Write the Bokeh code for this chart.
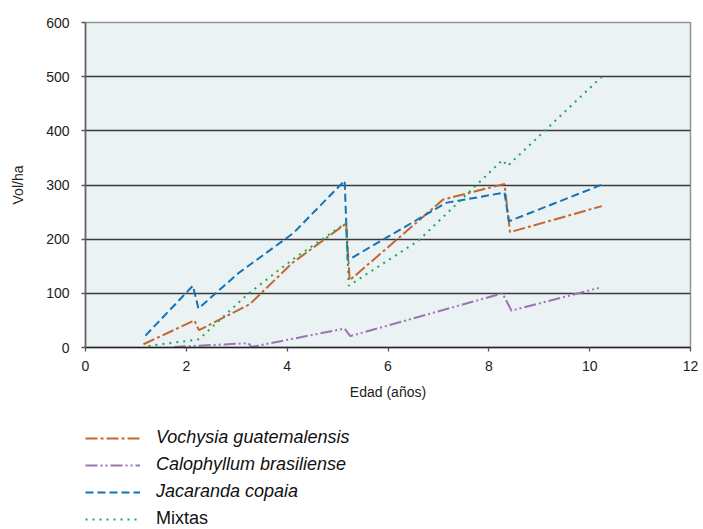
from bokeh.plotting import figure
from bokeh.models import Legend, LegendItem, FixedTicker, Range1d
from bokeh.layouts import column
from bokeh.embed import file_html
from bokeh.resources import INLINE

# Data
vochysia_x = [1.15, 2.16, 2.25, 3.26, 4.1, 5.17, 5.24, 7.09, 8.31, 8.42, 10.24]
vochysia_y = [6, 50, 32, 80, 156, 229, 124, 273, 302, 213, 261]

calophyllum_x = [1.75, 3.23, 3.29, 5.14, 5.25, 8.27, 8.45, 10.18]
calophyllum_y = [1, 8, 1, 35, 21, 100, 68, 110]

jacaranda_x = [1.19, 2.13, 2.24, 3.03, 4.12, 5.14, 5.2, 7.15, 8.31, 8.4, 10.28]
jacaranda_y = [22, 114, 72, 137, 211, 308, 161, 267, 286, 233, 302]

mixtas_x = [1.25, 2.25, 3.2, 4.1, 5.17, 5.22, 6.6, 8.27, 8.37, 10.24]
mixtas_y = [3, 15, 97, 162, 230, 114, 197, 346, 335, 500]

series_names = ["Vochysia guatemalensis", "Calophyllum brasiliense", "Jacaranda copaia", "Mixtas"]
series_colors = ["#C2682E", "#9B74B2", "#1273B8", "#1CA65A"]
series_dashes = ["12 3 3 3", "12 3 2 3 2 3", "8 4", "2 5"]
x_ticks = [0, 2, 4, 6, 8, 10, 12]
y_ticks = [0, 100, 200, 300, 400, 500, 600]

FONT = "Liberation Sans"

p = figure(width=700, height=410, output_backend="svg", toolbar_location=None,
           x_range=Range1d(0, 12), y_range=Range1d(0, 600),
           min_border_left=85, min_border_right=10, min_border_top=22, min_border_bottom=63)

p.background_fill_color = "#EBF2F4"
p.border_fill_color = "white"
p.outline_line_color = "#8c969b"
p.outline_line_width = 1.5

p.xgrid.grid_line_color = None
p.ygrid.grid_line_color = "#3a3a3a"
p.ygrid.grid_line_width = 1.4

p.xaxis.ticker = FixedTicker(ticks=x_ticks)
p.yaxis.ticker = FixedTicker(ticks=y_ticks)
for ax in (p.xaxis, p.yaxis):
    ax.minor_tick_line_color = None
    ax.major_tick_in = 0
    ax.major_tick_out = 4
    ax.major_tick_line_color = "#555555"
    ax.major_tick_line_width = 1.3
    ax.axis_line_width = 1.6
    ax.major_label_text_font = FONT
    ax.major_label_text_font_size = "14px"
    ax.major_label_text_color = "#222222"
    ax.axis_label_text_font = FONT
    ax.axis_label_text_font_size = "14px"
    ax.axis_label_text_font_style = "normal"
    ax.axis_label_text_color = "#222222"

p.xaxis.axis_line_color = "#222222"
p.yaxis.axis_line_color = "#666666"
p.xaxis.axis_label = "Edad (años)"
p.yaxis.axis_label = "Vol/ha"
p.xaxis.major_label_standoff = 9
p.xaxis.axis_label_standoff = 10
p.yaxis.major_label_standoff = 12
p.yaxis.axis_label_standoff = 17

all_x = [vochysia_x, calophyllum_x, jacaranda_x, mixtas_x]
all_y = [vochysia_y, calophyllum_y, jacaranda_y, mixtas_y]
for xs, ys, c, d in zip(all_x, all_y, series_colors, series_dashes):
    p.line(xs, ys, line_color=c, line_width=2, line_dash=d)

# Legend figure below the chart (frames are aligned by the column layout)
q = figure(width=700, height=119, output_backend="svg", toolbar_location=None,
           x_range=Range1d(0, 1), y_range=Range1d(0, 1),
           x_axis_location=None, y_axis_location=None,
           min_border_left=0, min_border_right=0, min_border_top=0, min_border_bottom=0)
q.outline_line_color = None
q.grid.grid_line_color = None
q.background_fill_color = "white"
q.border_fill_color = "white"

# legend keys: off-screen single-point lines carrying each series' style
keys = [q.line([-5], [-5], line_color=c, line_width=2, line_dash=d)
        for c, d in zip(series_colors, series_dashes)]

def make_legend(items, style, loc):
    lg = Legend(items=items, location=loc, orientation="vertical")
    lg.label_text_font = FONT
    lg.label_text_font_size = "18px"
    lg.label_text_font_style = style
    lg.label_text_color = "#111111"
    lg.glyph_width = 55
    lg.glyph_height = 20
    lg.label_height = 20
    lg.label_standoff = 16
    lg.spacing = 6
    lg.padding = 0
    lg.margin = 0
    lg.border_line_color = None
    lg.background_fill_alpha = 0
    return lg

leg_italic = make_legend([LegendItem(label=series_names[i], renderers=[keys[i]]) for i in range(3)],
                         "italic", (0, 27))
leg_normal = make_legend([LegendItem(label=series_names[3], renderers=[keys[3]])],
                         "normal", (0, 0))
q.add_layout(leg_italic, "center")
q.add_layout(leg_normal, "center")

open("out.html", "w").write(file_html(column(p, q, spacing=0), INLINE))
